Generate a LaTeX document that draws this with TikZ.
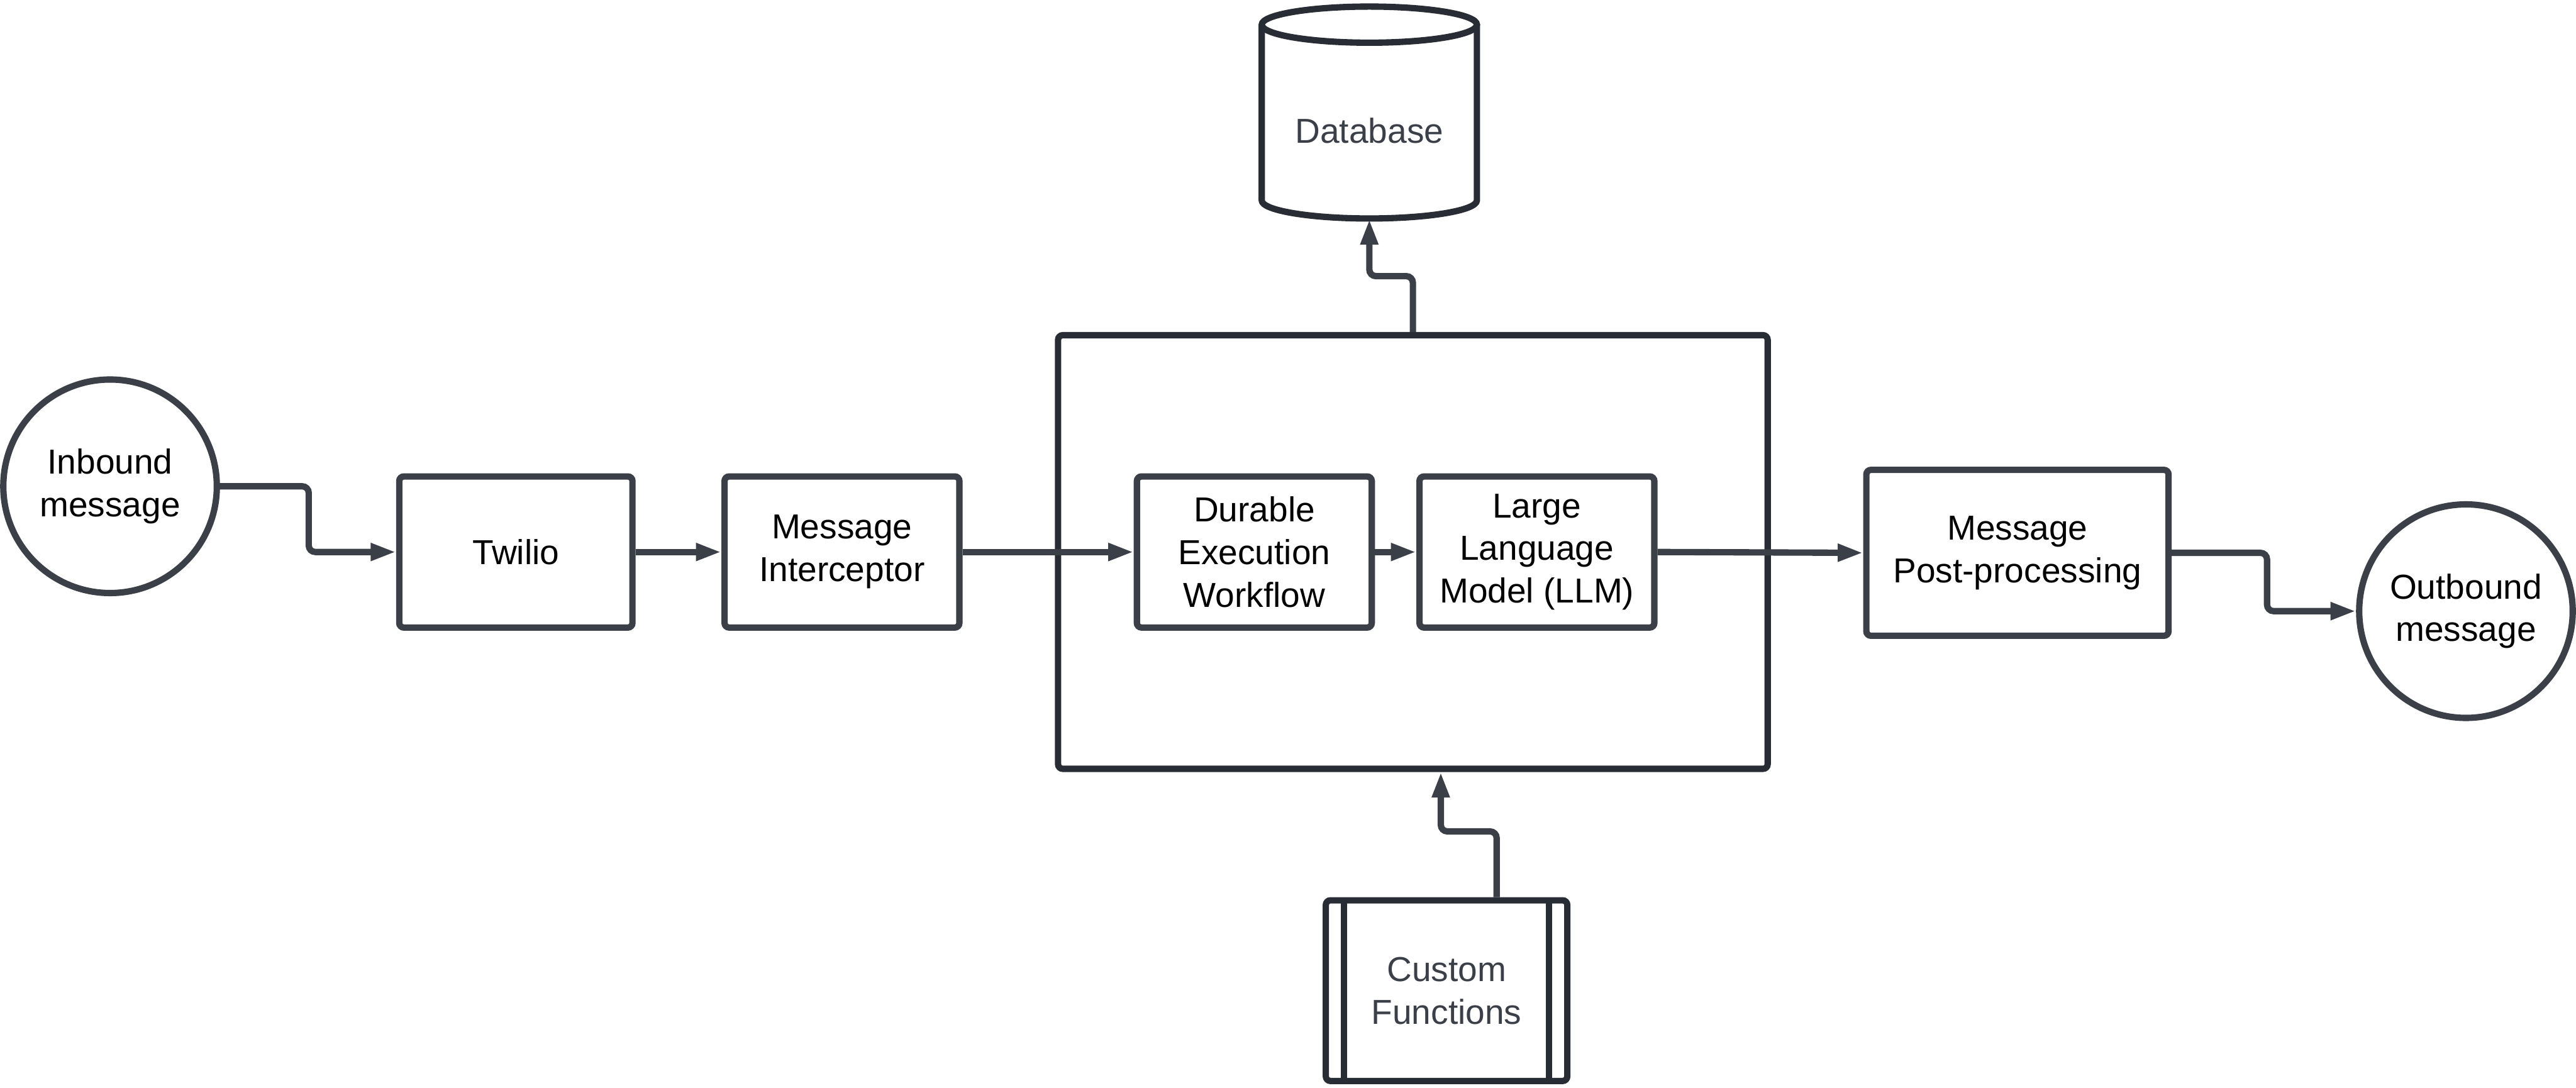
\documentclass[tikz,border=0pt]{standalone}
\usepackage{fontspec}
\setmainfont{Liberation Sans}
\usetikzlibrary{arrows.meta,calc}
\definecolor{lc}{HTML}{3A3F48}
\definecolor{bc}{HTML}{282C34}
\definecolor{tc}{HTML}{3A3F48}
\newcommand\lblfont{\fontsize{12}{14.8}\selectfont}
\tikzset{
  box/.style={draw=lc, line width=2.2pt, rounded corners=1.6pt, inner sep=0pt, align=center, font=\lblfont, fill=white},
  circ/.style={draw=lc, line width=2.2pt, circle, minimum size=2.6cm, inner sep=0pt, align=center, font=\lblfont},
  conn/.style={draw=lc, line width=2.2pt, rounded corners=0.08cm, -{Triangle[length=0.31cm,width=0.2cm]}},
  cyl/.style={draw=bc, line width=2.2pt},
}
\begin{document}
\begin{tikzpicture}[x=0.02cm,y=-0.02cm]
\useasboundingbox (0,0) rectangle (1568,662);
% nodes
\node[circ] (in) at (67,296) {Inbound\\message};
\node[box, minimum width=2.84cm, minimum height=1.84cm] (tw) at (314,336) {Twilio};
\node[box, minimum width=2.86cm, minimum height=1.84cm] (mi) at (512.5,336) {Message\\Interceptor};
\node[box, draw=bc, fill=none, minimum width=8.64cm, minimum height=5.28cm] (big) at (860,336) {};
\node[box, minimum width=2.86cm, minimum height=1.84cm] (dew) at (763.5,336) {Durable\\Execution\\Workflow};
\node[box, minimum width=2.86cm, minimum height=1.84cm] (llm) at (935.5,336) {Large\\Language\\Model (LLM)};
\node[box, minimum width=3.68cm, minimum height=2.02cm] (post) at (1228,336.5) {Message\\Post-processing};
\node[circ] (out) at (1501,372) {Outbound\\message};
% database
\node[inner sep=0pt, minimum width=2.62cm, minimum height=2.14cm, font=\lblfont, text=tc] (db) at (833.5,79.5) {Database};
\draw[cyl] (833.5,15) ellipse [x radius=1.31cm, y radius=0.22cm];
\draw[cyl, line join=round] (768,15) -- (768,122) arc[start angle=180, end angle=360, x radius=1.31cm, y radius=0.22cm] -- (899,15);
% custom functions
\node[box, draw=bc, minimum width=2.94cm, minimum height=2.2cm, text=tc] (cf) at (880.5,603) {Custom\\Functions};
\draw[cyl] ([xshift=0.26cm]cf.north west) -- ([xshift=0.26cm]cf.south west);
\draw[cyl] ([xshift=-0.26cm]cf.north east) -- ([xshift=-0.26cm]cf.south east);
% connectors
\draw[conn] (in.east) -- ++(54,0) |- (tw.west);
\draw[conn] (tw.east) -- (mi.west);
\draw[conn] (mi.east) -- (dew.west);
\draw[conn] (dew.east) -- (llm.west);
\draw[conn] (llm.east) -- (post.west);
\draw[conn] (post.east) -- ++(58,0) |- (out.west);
\draw[conn] (big.north) -- ++(0,-34) -| (db.south);
\draw[conn] ([xshift=0.61cm]cf.north) -- ++(0,-40) -| ([xshift=0.34cm]big.south);
\end{tikzpicture}
\end{document}
